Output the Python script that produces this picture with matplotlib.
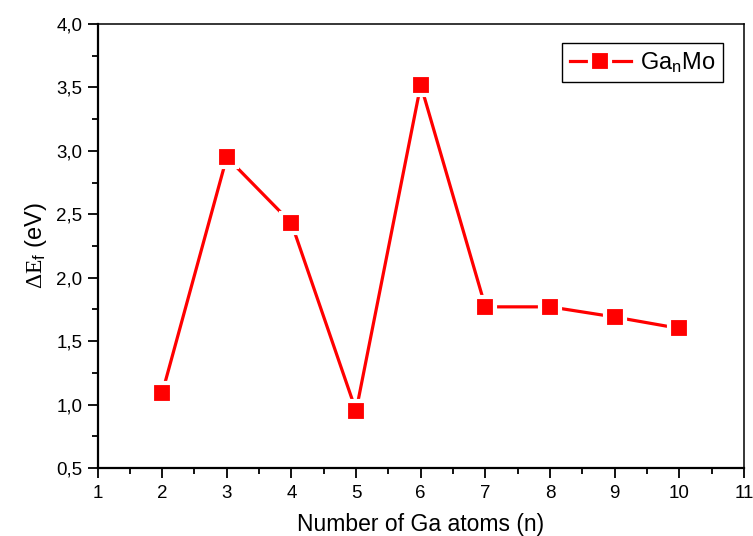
import matplotlib
matplotlib.use("Agg")
import matplotlib.pyplot as plt
from matplotlib.ticker import MultipleLocator, FixedLocator

plt.rcParams['font.family'] = ['Liberation Sans', 'DejaVu Sans']
plt.rcParams['mathtext.fontset'] = 'custom'
plt.rcParams['mathtext.rm'] = 'Liberation Serif'
plt.rcParams['mathtext.it'] = 'Liberation Serif'
plt.rcParams['mathtext.sf'] = 'Liberation Sans'

n_atoms = [2, 3, 4, 5, 6, 7, 8, 9, 10]
delta_ef = [1.09, 2.95, 2.43, 0.95, 3.52, 1.77, 1.77, 1.69, 1.60]
x_ticks = [1, 2, 3, 4, 5, 6, 7, 8, 9, 10, 11]
y_ticks = [0.5, 1.0, 1.5, 2.0, 2.5, 3.0, 3.5, 4.0]
y_tick_labels = ['0,5', '1,0', '1,5', '2,0', '2,5', '3,0', '3,5', '4,0']

fig = plt.figure(figsize=(7.53, 5.36), dpi=100)
ax = fig.add_axes([0.1295, 0.127, 0.8585, 0.8282])

ax.plot(n_atoms, delta_ef, color='#ff0000', linewidth=2.3, marker='s',
        markersize=14, markerfacecolor='#ff0000', markeredgecolor='white',
        markeredgewidth=3, label=r'Ga$\mathsf{_n}$Mo', clip_on=False)

ax.set_xlim(1, 11)
ax.set_ylim(0.5, 4.0)
ax.xaxis.set_major_locator(FixedLocator(x_ticks))
ax.xaxis.set_minor_locator(MultipleLocator(0.5))
ax.yaxis.set_major_locator(FixedLocator(y_ticks))
ax.yaxis.set_minor_locator(MultipleLocator(0.25))
ax.set_yticklabels(y_tick_labels)
ax.set_xticklabels([str(v) for v in x_ticks])

ax.tick_params(which='major', direction='out', length=7, width=1.3, labelsize=13.5,
               top=False, right=False)
ax.tick_params(which='minor', direction='out', length=4, width=1.3, top=False, right=False)
ax.tick_params(axis='x', pad=5)
ax.tick_params(axis='y', pad=4)

for side in ['left', 'bottom']:
    ax.spines[side].set_linewidth(1.6)
for side in ['top', 'right']:
    ax.spines[side].set_linewidth(1.1)

ax.set_xlabel('Number of Ga atoms (n)', fontsize=16.5, labelpad=8)
ax.set_ylabel(r'$\Delta\mathrm{E}_{\mathsf{f}}$ (eV)', fontsize=17, labelpad=5)

leg = ax.legend(loc='upper right', bbox_to_anchor=(0.9675, 0.957), borderaxespad=0,
                fontsize=17, frameon=True, fancybox=False, edgecolor='black',
                framealpha=1, handlelength=2.6, borderpad=0.3, handletextpad=0.4)
leg.get_frame().set_linewidth(1.0)

fig.savefig('out.png', dpi=100)
